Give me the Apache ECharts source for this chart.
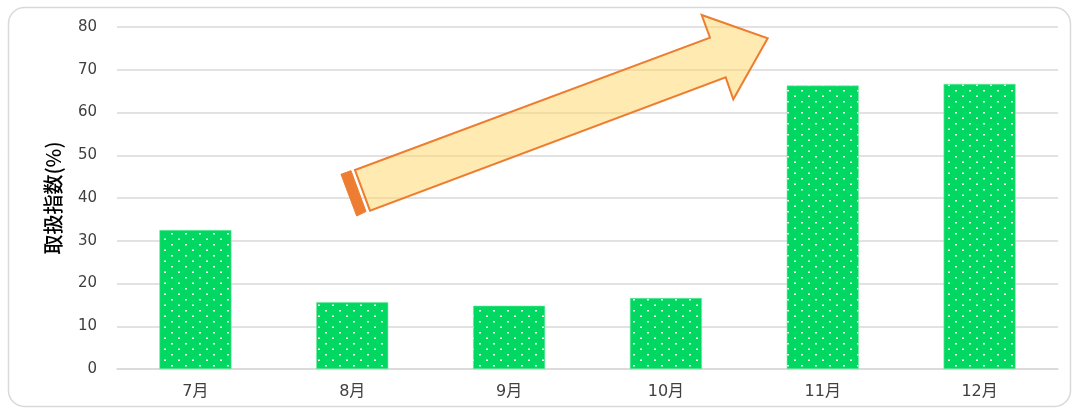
<!DOCTYPE html>
<html>
<head>
<meta charset="utf-8">
<script src="https://cdn.jsdelivr.net/npm/echarts@6/dist/echarts.min.js"></script>
<style>
html,body{margin:0;padding:0;background:#fff;}
#main{width:1079px;height:410px;}
</style>
</head>
<body>
<div id="main"></div>
<script>
const categories = ['7月', '8月', '9月', '10月', '11月', '12月'];
const values = [32.5, 15.6, 14.8, 16.6, 66.3, 66.7];
const yTicks = { min: 0, max: 80, interval: 10 };
const yAxisName = '取扱指数(%)';

// dotted pattern
const tile = document.createElement('canvas');
tile.width = 14; tile.height = 11;
const ctx = tile.getContext('2d');
ctx.fillStyle = '#00D861';
ctx.fillRect(0, 0, 14, 11);
ctx.fillStyle = 'rgba(255,255,255,0.95)';
ctx.fillRect(3, 2, 2, 1.5);
ctx.fillRect(10, 7.5, 2, 1.5);

const chart = echarts.init(document.getElementById('main'), null, { renderer: 'canvas' });
const font = 'DejaVu Sans, Verdana, sans-serif';
chart.setOption({
  animation: false,
  backgroundColor: '#fff',
  grid: { left: 117, right: 21, top: 27, bottom: 41, containLabel: false },
  xAxis: {
    type: 'category',
    data: categories,
    axisLine: { show: true, lineStyle: { color: '#d9d9d9', width: 1.5 } },
    axisTick: { show: false },
    axisLabel: { color: '#404040', fontSize: 16, fontFamily: 'DejaVu Sans, Noto Sans CJK JP, sans-serif', margin: 15 }
  },
  yAxis: {
    type: 'value',
    min: yTicks.min, max: yTicks.max, interval: yTicks.interval,
    name: yAxisName,
    nameLocation: 'middle',
    nameGap: 54,
    nameRotate: 90,
    nameTextStyle: { color: '#000', fontSize: 20, fontWeight: 500, fontFamily: 'Noto Sans CJK JP, sans-serif' },
    axisLine: { show: false },
    axisTick: { show: false },
    splitLine: { lineStyle: { color: '#d9d9d9', width: 1.5 } },
    axisLabel: { color: '#404040', fontSize: 15, fontFamily: font, margin: 20 }
  },
  series: [{
    type: 'bar',
    data: values,
    barWidth: 72,
    itemStyle: {
      color: { image: tile, repeat: 'repeat' },
      borderColor: '#6fe8a0', borderWidth: 0.6
    }
  }],
  graphic: [
    {
      type: 'rect', z: 0,
      shape: { x: 8.5, y: 7.5, width: 1062, height: 399, r: 16 },
      style: { fill: 'none', stroke: '#d9d9d9', lineWidth: 1.5 }
    },
    {
      type: 'polygon', z: 100,
      shape: { points: [[341, 174.3], [351, 170.7], [366, 211.5], [356.7, 216]] },
      style: { fill: '#ED7D31', stroke: '#ED7D31', lineWidth: 1 }
    },
    {
      type: 'polygon', z: 100,
      shape: { points: [[355, 170], [710, 37.7], [701.7, 15], [767.7, 38.3], [733.3, 99.3], [725.7, 77.3], [370, 210.7]] },
      style: { fill: 'rgba(255,214,100,0.5)', stroke: '#ED7D31', lineWidth: 2, lineJoin: 'miter' }
    }
  ]
});
</script>
</body>
</html>
